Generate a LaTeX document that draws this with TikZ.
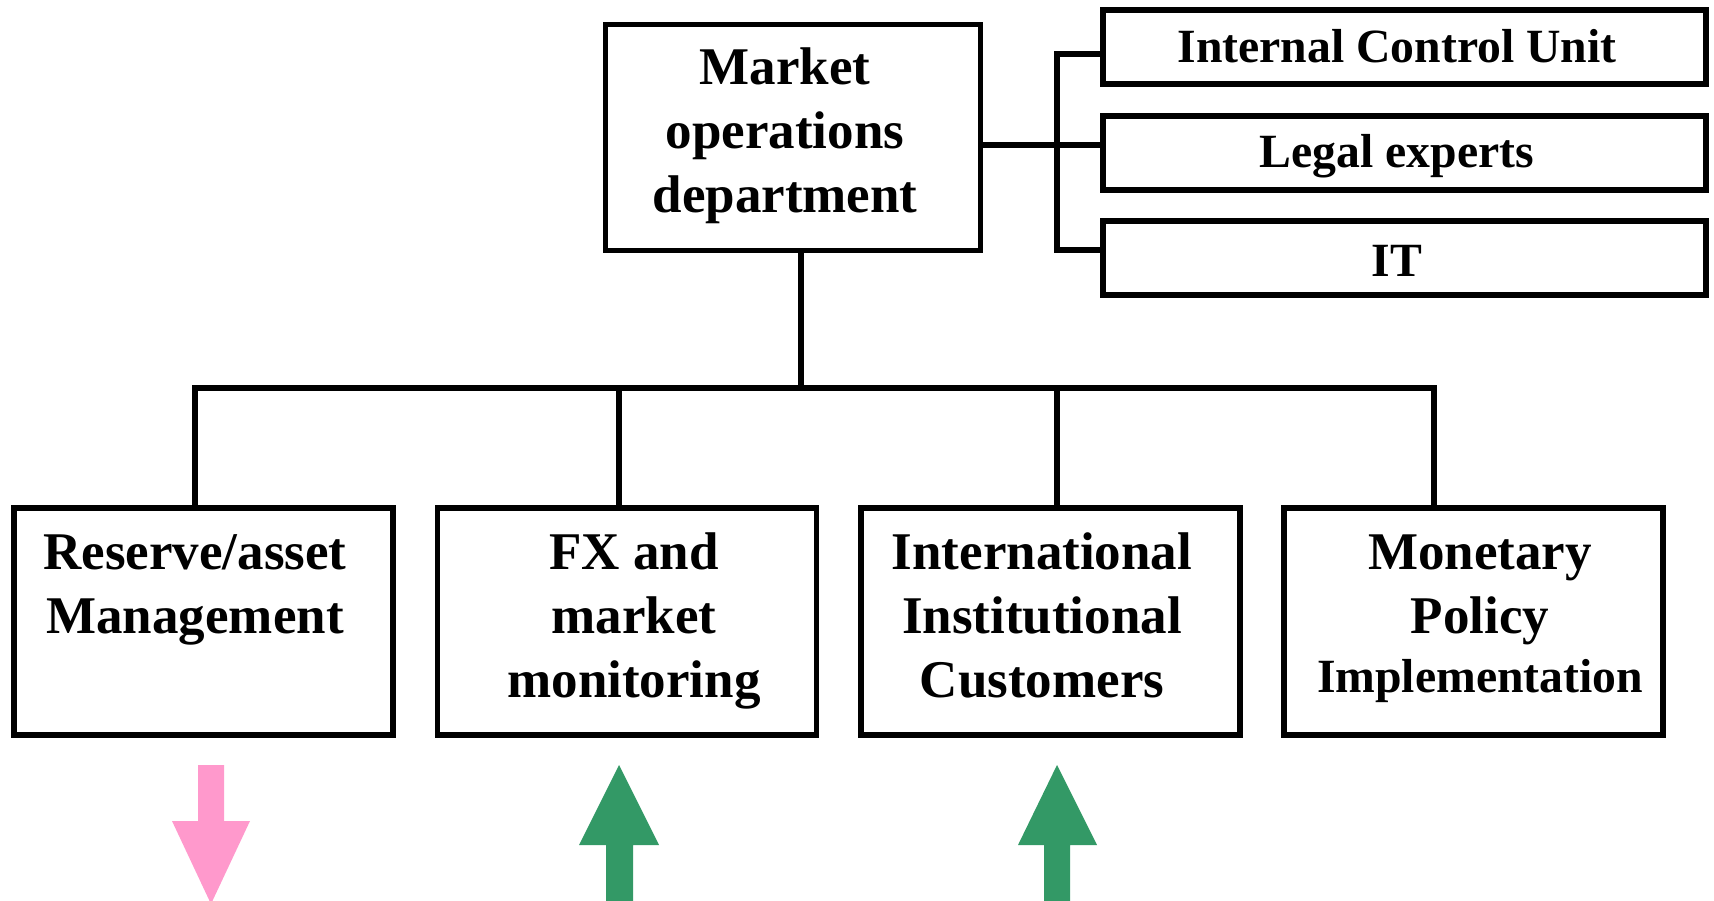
\documentclass[tikz,border=0pt]{standalone}
\usepackage{fontspec}
\setmainfont{Liberation Serif}
\newcommand\mlines[1]{\vtop{\halign{\hfil##\hfil\cr#1\crcr}}}
\definecolor{arrpink}{HTML}{FF99CC}
\definecolor{arrgreen}{HTML}{339966}
\begin{document}
\begin{tikzpicture}[x=1pt,y=-1pt,
  box/.style={draw, line width=5.5pt, inner sep=0pt, fill=white},
  lbl/.style={anchor=base, inner sep=0pt, font=\bfseries\fontsize{53}{64}\selectfont},
  sml/.style={anchor=base, inner sep=0pt, font=\bfseries\fontsize{47.7}{64}\selectfont},
  conn/.style={line width=5.5pt}]
\useasboundingbox (0,0) rectangle (1714,901);

% boxes
\node[box, minimum width=375pt, minimum height=226pt] (main) at (793,137.5) {};
\node[box, minimum width=603pt, minimum height=74pt] (icu) at (1404.5,47) {};
\node[box, minimum width=603pt, minimum height=74pt] (legal) at (1404.5,153) {};
\node[box, minimum width=603pt, minimum height=74pt] (it) at (1404.5,258) {};
\node[box, minimum width=379pt, minimum height=227pt] (b1) at (203.5,621.5) {};
\node[box, minimum width=379pt, minimum height=227pt] (b2) at (627,621.5) {};
\node[box, minimum width=379pt, minimum height=227pt] (b3) at (1050.5,621.5) {};
\node[box, minimum width=379pt, minimum height=227pt] (b4) at (1473.5,621.5) {};

% junction coordinates
\coordinate (j) at (801,388);
\coordinate (d1) at (195,388);
\coordinate (d2) at (619,388);
\coordinate (d3) at (1057,388);
\coordinate (d4) at (1434,388);
\coordinate (k1) at (1057,54);
\coordinate (k2) at (1057,145);
\coordinate (k3) at (1057,250);

% connectors
\draw[conn] (main.south -| j) -- (j);
\draw[conn] (d1 |- b1.north) -- (d1) -- (d4) -- (d4 |- b4.north);
\draw[conn] (d2) -- (d2 |- b2.north);
\draw[conn] (d3) -- (d3 |- b3.north);
\draw[conn] (k1 -| icu.west) -- (k1) -- (k3) -- (k3 -| it.west);
\draw[conn] (main.east |- k2) -- (k2 -| legal.west);

% texts
\node[lbl] (tmain) at (785,85) {\mlines{Market\cr operations\cr department}};
\node[sml] (ticu) at (1397,63) {Internal Control Unit};
\node[sml] (tlegal) at (1397,168) {Legal experts};
\node[sml] (tit) at (1397,277) {IT};
\node[lbl] (tb1) at (195,569) {\mlines{Reserve/asset\cr Management}};
\node[lbl] (tb2) at (634,569) {\mlines{FX and\cr market\cr monitoring}};
\node[lbl] (tb3) at (1042,569) {\mlines{International\cr Institutional\cr Customers}};
\node[lbl] (tb4) at (1480,569) {\mlines{Monetary\cr Policy\cr\noalign{\vskip-4.5pt}{\fontsize{47.7}{64}\selectfont Implementation}}};

% arrows
\fill[arrpink] (198,765) -- (224,765) -- (224,821) -- (250,821) -- (211,904) -- (172,821) -- (198,821) -- cycle;
\fill[arrgreen] (619,765) -- (659,845) -- (633,845) -- (633,905) -- (606,905) -- (606,845) -- (579,845) -- cycle;
\fill[arrgreen] (1057,765) -- (1097,845) -- (1070,845) -- (1070,905) -- (1044,905) -- (1044,845) -- (1018,845) -- cycle;
\end{tikzpicture}
\end{document}
